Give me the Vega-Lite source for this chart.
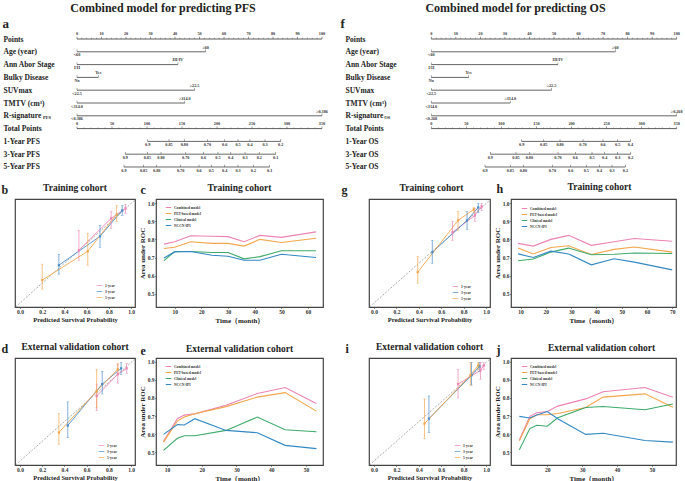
{
"$schema":"https://vega.github.io/schema/vega-lite/v6.json",
"background":"white",
"padding":{"left":0,"top":2,"right":0,"bottom":0},
"columns":5,
"spacing":{"row":21,"column":21},
"bounds":"flush",
"align":"each",
"resolve":{"scale":{"color":"independent"},"legend":{"color":"independent"}},
"datasets":{
"ptsAxis":[{"row":"Points","v":0,"lab":"0"},{"row":"Points","v":2,"lab":""},{"row":"Points","v":4,"lab":""},{"row":"Points","v":6,"lab":""},{"row":"Points","v":8,"lab":""},{"row":"Points","v":10,"lab":"10"},{"row":"Points","v":12,"lab":""},{"row":"Points","v":14,"lab":""},{"row":"Points","v":16,"lab":""},{"row":"Points","v":18,"lab":""},{"row":"Points","v":20,"lab":"20"},{"row":"Points","v":22,"lab":""},{"row":"Points","v":24,"lab":""},{"row":"Points","v":26,"lab":""},{"row":"Points","v":28,"lab":""},{"row":"Points","v":30,"lab":"30"},{"row":"Points","v":32,"lab":""},{"row":"Points","v":34,"lab":""},{"row":"Points","v":36,"lab":""},{"row":"Points","v":38,"lab":""},{"row":"Points","v":40,"lab":"40"},{"row":"Points","v":42,"lab":""},{"row":"Points","v":44,"lab":""},{"row":"Points","v":46,"lab":""},{"row":"Points","v":48,"lab":""},{"row":"Points","v":50,"lab":"50"},{"row":"Points","v":52,"lab":""},{"row":"Points","v":54,"lab":""},{"row":"Points","v":56,"lab":""},{"row":"Points","v":58,"lab":""},{"row":"Points","v":60,"lab":"60"},{"row":"Points","v":62,"lab":""},{"row":"Points","v":64,"lab":""},{"row":"Points","v":66,"lab":""},{"row":"Points","v":68,"lab":""},{"row":"Points","v":70,"lab":"70"},{"row":"Points","v":72,"lab":""},{"row":"Points","v":74,"lab":""},{"row":"Points","v":76,"lab":""},{"row":"Points","v":78,"lab":""},{"row":"Points","v":80,"lab":"80"},{"row":"Points","v":82,"lab":""},{"row":"Points","v":84,"lab":""},{"row":"Points","v":86,"lab":""},{"row":"Points","v":88,"lab":""},{"row":"Points","v":90,"lab":"90"},{"row":"Points","v":92,"lab":""},{"row":"Points","v":94,"lab":""},{"row":"Points","v":96,"lab":""},{"row":"Points","v":98,"lab":""},{"row":"Points","v":100,"lab":"100"}],
"totAxis":[{"row":"Total Points","v":0,"lab":"0"},{"row":"Total Points","v":10,"lab":""},{"row":"Total Points","v":20,"lab":""},{"row":"Total Points","v":30,"lab":""},{"row":"Total Points","v":40,"lab":""},{"row":"Total Points","v":50,"lab":"50"},{"row":"Total Points","v":60,"lab":""},{"row":"Total Points","v":70,"lab":""},{"row":"Total Points","v":80,"lab":""},{"row":"Total Points","v":90,"lab":""},{"row":"Total Points","v":100,"lab":"100"},{"row":"Total Points","v":110,"lab":""},{"row":"Total Points","v":120,"lab":""},{"row":"Total Points","v":130,"lab":""},{"row":"Total Points","v":140,"lab":""},{"row":"Total Points","v":150,"lab":"150"},{"row":"Total Points","v":160,"lab":""},{"row":"Total Points","v":170,"lab":""},{"row":"Total Points","v":180,"lab":""},{"row":"Total Points","v":190,"lab":""},{"row":"Total Points","v":200,"lab":"200"},{"row":"Total Points","v":210,"lab":""},{"row":"Total Points","v":220,"lab":""},{"row":"Total Points","v":230,"lab":""},{"row":"Total Points","v":240,"lab":""},{"row":"Total Points","v":250,"lab":"250"},{"row":"Total Points","v":260,"lab":""},{"row":"Total Points","v":270,"lab":""},{"row":"Total Points","v":280,"lab":""},{"row":"Total Points","v":290,"lab":""},{"row":"Total Points","v":300,"lab":"300"},{"row":"Total Points","v":310,"lab":""},{"row":"Total Points","v":320,"lab":""},{"row":"Total Points","v":330,"lab":""},{"row":"Total Points","v":340,"lab":""},{"row":"Total Points","v":350,"lab":"350"}],
"a_vars":[{"row":"Age (year)","pts":0,"label":"<60"},{"row":"Age (year)","pts":52.5,"label":"≥60"},{"row":"Ann Abor Stage","pts":0,"label":"I/II"},{"row":"Ann Abor Stage","pts":41.2,"label":"III/IV"},{"row":"Bulky Disease","pts":0,"label":"No"},{"row":"Bulky Disease","pts":8.7,"label":"Yes"},{"row":"SUVmax","pts":0,"label":"<22.5"},{"row":"SUVmax","pts":48,"label":"≥22.5"},{"row":"TMTV (cm³)","pts":0,"label":"<314.0"},{"row":"TMTV (cm³)","pts":44,"label":"≥314.0"},{"row":"R-signature","pts":0,"label":"<0.386"},{"row":"R-signature","pts":100,"label":"≥0.386"}],
"f_vars":[{"row":"Age (year)","pts":0,"label":"<60"},{"row":"Age (year)","pts":75,"label":"≥60"},{"row":"Ann Abor Stage","pts":0,"label":"I/II"},{"row":"Ann Abor Stage","pts":51.6,"label":"III/IV"},{"row":"Bulky Disease","pts":0,"label":"No"},{"row":"Bulky Disease","pts":15.2,"label":"Yes"},{"row":"SUVmax","pts":0,"label":"<22.5"},{"row":"SUVmax","pts":49,"label":"≥22.5"},{"row":"TMTV (cm³)","pts":0,"label":"<314.0"},{"row":"TMTV (cm³)","pts":32.2,"label":"≥314.0"},{"row":"R-signature","pts":0,"label":"<0.268"},{"row":"R-signature","pts":100,"label":"≥0.268"}],
"a_surv":[{"row":"1-Year PFS","tp":101,"label":"0.9"},{"row":"1-Year PFS","tp":131.4,"label":"0.85"},{"row":"1-Year PFS","tp":153.3,"label":"0.80"},{"row":"1-Year PFS","tp":186.2,"label":"0.70"},{"row":"1-Year PFS","tp":211,"label":"0.6"},{"row":"1-Year PFS","tp":230,"label":"0.5"},{"row":"1-Year PFS","tp":247,"label":"0.4"},{"row":"1-Year PFS","tp":268.6,"label":"0.3"},{"row":"1-Year PFS","tp":291,"label":"0.2"},
{"row":"3-Year PFS","tp":69,"label":"0.9"},{"row":"3-Year PFS","tp":100.5,"label":"0.85"},{"row":"3-Year PFS","tp":120,"label":"0.80"},{"row":"3-Year PFS","tp":155.3,"label":"0.70"},{"row":"3-Year PFS","tp":180.5,"label":"0.6"},{"row":"3-Year PFS","tp":201.4,"label":"0.5"},{"row":"3-Year PFS","tp":219.6,"label":"0.4"},{"row":"3-Year PFS","tp":240,"label":"0.3"},{"row":"3-Year PFS","tp":260.4,"label":"0.2"},{"row":"3-Year PFS","tp":283.9,"label":"0.1"},
{"row":"5-Year PFS","tp":67.1,"label":"0.9"},{"row":"5-Year PFS","tp":95.1,"label":"0.85"},{"row":"5-Year PFS","tp":113.8,"label":"0.80"},{"row":"5-Year PFS","tp":148,"label":"0.70"},{"row":"5-Year PFS","tp":174.3,"label":"0.6"},{"row":"5-Year PFS","tp":191.9,"label":"0.5"},{"row":"5-Year PFS","tp":211,"label":"0.4"},{"row":"5-Year PFS","tp":230,"label":"0.3"},{"row":"5-Year PFS","tp":252,"label":"0.2"},{"row":"5-Year PFS","tp":275.3,"label":"0.1"}],
"f_surv":[{"row":"1-Year OS","tp":128.9,"label":"0.9"},{"row":"1-Year OS","tp":160.3,"label":"0.85"},{"row":"1-Year OS","tp":183.6,"label":"0.80"},{"row":"1-Year OS","tp":216.4,"label":"0.70"},{"row":"1-Year OS","tp":244.9,"label":"0.6"},{"row":"1-Year OS","tp":265.8,"label":"0.5"},{"row":"1-Year OS","tp":283.9,"label":"0.4"},
{"row":"3-Year OS","tp":84.2,"label":"0.9"},{"row":"3-Year OS","tp":120.8,"label":"0.85"},{"row":"3-Year OS","tp":139.8,"label":"0.80"},{"row":"3-Year OS","tp":180.7,"label":"0.70"},{"row":"3-Year OS","tp":205.4,"label":"0.6"},{"row":"3-Year OS","tp":229.2,"label":"0.5"},{"row":"3-Year OS","tp":247.3,"label":"0.4"},{"row":"3-Year OS","tp":265.8,"label":"0.3"},{"row":"3-Year OS","tp":284.4,"label":"0.2"},
{"row":"5-Year OS","tp":76.6,"label":"0.9"},{"row":"5-Year OS","tp":112.7,"label":"0.85"},{"row":"5-Year OS","tp":131.3,"label":"0.80"},{"row":"5-Year OS","tp":172.6,"label":"0.70"},{"row":"5-Year OS","tp":198.8,"label":"0.6"},{"row":"5-Year OS","tp":221.1,"label":"0.5"},{"row":"5-Year OS","tp":239.7,"label":"0.4"},{"row":"5-Year OS","tp":257.7,"label":"0.3"},{"row":"5-Year OS","tp":276.8,"label":"0.2"}],
"cal_b":[{"year":"1-year","pred":0.53,"obs":0.53,"lo":0.43,"hi":0.73},{"year":"1-year","pred":0.82,"obs":0.85,"lo":0.75,"hi":0.92},{"year":"1-year","pred":0.95,"obs":0.95,"lo":0.9,"hi":0.99},{"year":"3-year","pred":0.35,"obs":0.38,"lo":0.29,"hi":0.49},{"year":"3-year","pred":0.72,"obs":0.67,"lo":0.56,"hi":0.78},{"year":"3-year","pred":0.92,"obs":0.93,"lo":0.88,"hi":0.98},{"year":"5-year","pred":0.2,"obs":0.23,"lo":0.14,"hi":0.39},{"year":"5-year","pred":0.61,"obs":0.52,"lo":0.38,"hi":0.7},{"year":"5-year","pred":0.87,"obs":0.89,"lo":0.82,"hi":0.98}],
"cal_d":[{"year":"1-year","pred":0.69,"obs":0.66,"lo":0.51,"hi":0.78},{"year":"1-year","pred":0.88,"obs":0.88,"lo":0.79,"hi":0.98},{"year":"1-year","pred":0.96,"obs":0.94,"lo":0.89,"hi":0.99},{"year":"3-year","pred":0.43,"obs":0.36,"lo":0.24,"hi":0.6},{"year":"3-year","pred":0.74,"obs":0.78,"lo":0.68,"hi":0.91},{"year":"3-year","pred":0.91,"obs":0.94,"lo":0.88,"hi":1.0},{"year":"5-year","pred":0.35,"obs":0.29,"lo":0.17,"hi":0.48},{"year":"5-year","pred":0.69,"obs":0.71,"lo":0.54,"hi":0.93},{"year":"5-year","pred":0.88,"obs":0.93,"lo":0.88,"hi":0.99}],
"cal_g":[{"year":"1-year","pred":0.7,"obs":0.71,"lo":0.63,"hi":0.82},{"year":"1-year","pred":0.9,"obs":0.88,"lo":0.82,"hi":0.95},{"year":"1-year","pred":0.96,"obs":0.97,"lo":0.93,"hi":1.0},{"year":"3-year","pred":0.52,"obs":0.51,"lo":0.4,"hi":0.63},{"year":"3-year","pred":0.83,"obs":0.83,"lo":0.74,"hi":0.92},{"year":"3-year","pred":0.93,"obs":0.96,"lo":0.91,"hi":1.0},{"year":"5-year","pred":0.39,"obs":0.31,"lo":0.2,"hi":0.47},{"year":"5-year","pred":0.75,"obs":0.83,"lo":0.73,"hi":0.92},{"year":"5-year","pred":0.89,"obs":0.94,"lo":0.91,"hi":0.96}],
"cal_i":[{"year":"1-year","pred":0.75,"obs":0.78,"lo":0.64,"hi":0.93},{"year":"1-year","pred":0.95,"obs":0.92,"lo":0.83,"hi":1.0},{"year":"1-year","pred":0.98,"obs":0.97,"lo":0.93,"hi":1.0},{"year":"3-year","pred":0.49,"obs":0.43,"lo":0.29,"hi":0.66},{"year":"3-year","pred":0.87,"obs":0.87,"lo":0.77,"hi":1.0},{"year":"3-year","pred":0.94,"obs":0.96,"lo":0.91,"hi":1.0},{"year":"5-year","pred":0.45,"obs":0.38,"lo":0.23,"hi":0.63},{"year":"5-year","pred":0.86,"obs":0.87,"lo":0.77,"hi":1.0},{"year":"5-year","pred":0.93,"obs":0.97,"lo":0.93,"hi":1.0}],
"auc_c":[{"model":"Combined model","t":6,"auc":0.774},{"model":"Combined model","t":10,"auc":0.787},{"model":"Combined model","t":16,"auc":0.82},{"model":"Combined model","t":24,"auc":0.817},{"model":"Combined model","t":30,"auc":0.815},{"model":"Combined model","t":36,"auc":0.787},{"model":"Combined model","t":42,"auc":0.822},{"model":"Combined model","t":50,"auc":0.811},{"model":"Combined model","t":63,"auc":0.841},
{"model":"PET-based model","t":6,"auc":0.75},{"model":"PET-based model","t":10,"auc":0.757},{"model":"PET-based model","t":16,"auc":0.787},{"model":"PET-based model","t":24,"auc":0.778},{"model":"PET-based model","t":30,"auc":0.778},{"model":"PET-based model","t":36,"auc":0.763},{"model":"PET-based model","t":42,"auc":0.8},{"model":"PET-based model","t":50,"auc":0.783},{"model":"PET-based model","t":63,"auc":0.806},
{"model":"Clinical model","t":6,"auc":0.683},{"model":"Clinical model","t":10,"auc":0.733},{"model":"Clinical model","t":16,"auc":0.733},{"model":"Clinical model","t":24,"auc":0.728},{"model":"Clinical model","t":30,"auc":0.728},{"model":"Clinical model","t":36,"auc":0.693},{"model":"Clinical model","t":42,"auc":0.705},{"model":"Clinical model","t":50,"auc":0.737},{"model":"Clinical model","t":63,"auc":0.737},
{"model":"NCCN-IPI","t":6,"auc":0.698},{"model":"NCCN-IPI","t":10,"auc":0.731},{"model":"NCCN-IPI","t":16,"auc":0.733},{"model":"NCCN-IPI","t":24,"auc":0.713},{"model":"NCCN-IPI","t":30,"auc":0.707},{"model":"NCCN-IPI","t":36,"auc":0.685},{"model":"NCCN-IPI","t":42,"auc":0.685},{"model":"NCCN-IPI","t":50,"auc":0.718},{"model":"NCCN-IPI","t":63,"auc":0.7}],
"auc_e":[{"model":"Combined model","t":9,"auc":0.56},{"model":"Combined model","t":13,"auc":0.685},{"model":"Combined model","t":15,"auc":0.705},{"model":"Combined model","t":18,"auc":0.712},{"model":"Combined model","t":27,"auc":0.76},{"model":"Combined model","t":36,"auc":0.825},{"model":"Combined model","t":44,"auc":0.858},{"model":"Combined model","t":53,"auc":0.77},
{"model":"PET-based model","t":9,"auc":0.555},{"model":"PET-based model","t":13,"auc":0.672},{"model":"PET-based model","t":15,"auc":0.695},{"model":"PET-based model","t":18,"auc":0.713},{"model":"PET-based model","t":27,"auc":0.752},{"model":"PET-based model","t":36,"auc":0.805},{"model":"PET-based model","t":44,"auc":0.83},{"model":"PET-based model","t":53,"auc":0.727},
{"model":"Clinical model","t":9,"auc":0.509},{"model":"Clinical model","t":13,"auc":0.576},{"model":"Clinical model","t":15,"auc":0.59},{"model":"Clinical model","t":18,"auc":0.59},{"model":"Clinical model","t":27,"auc":0.62},{"model":"Clinical model","t":36,"auc":0.694},{"model":"Clinical model","t":44,"auc":0.624},{"model":"Clinical model","t":53,"auc":0.613},
{"model":"NCCN-IPI","t":9,"auc":0.598},{"model":"NCCN-IPI","t":13,"auc":0.652},{"model":"NCCN-IPI","t":15,"auc":0.65},{"model":"NCCN-IPI","t":18,"auc":0.685},{"model":"NCCN-IPI","t":27,"auc":0.62},{"model":"NCCN-IPI","t":36,"auc":0.607},{"model":"NCCN-IPI","t":44,"auc":0.537},{"model":"NCCN-IPI","t":53,"auc":0.519}],
"auc_h":[{"model":"Combined model","t":9,"auc":0.778},{"model":"Combined model","t":15,"auc":0.763},{"model":"Combined model","t":22,"auc":0.8},{"model":"Combined model","t":29,"auc":0.822},{"model":"Combined model","t":38,"auc":0.767},{"model":"Combined model","t":47,"auc":0.787},{"model":"Combined model","t":55,"auc":0.805},{"model":"Combined model","t":70,"auc":0.79},
{"model":"PET-based model","t":9,"auc":0.753},{"model":"PET-based model","t":15,"auc":0.72},{"model":"PET-based model","t":22,"auc":0.755},{"model":"PET-based model","t":29,"auc":0.765},{"model":"PET-based model","t":38,"auc":0.717},{"model":"PET-based model","t":47,"auc":0.745},{"model":"PET-based model","t":55,"auc":0.758},{"model":"PET-based model","t":70,"auc":0.73},
{"model":"Clinical model","t":9,"auc":0.682},{"model":"Clinical model","t":15,"auc":0.692},{"model":"Clinical model","t":22,"auc":0.73},{"model":"Clinical model","t":29,"auc":0.752},{"model":"Clinical model","t":38,"auc":0.715},{"model":"Clinical model","t":47,"auc":0.718},{"model":"Clinical model","t":55,"auc":0.725},{"model":"Clinical model","t":70,"auc":0.722},
{"model":"NCCN-IPI","t":9,"auc":0.72},{"model":"NCCN-IPI","t":15,"auc":0.7},{"model":"NCCN-IPI","t":22,"auc":0.735},{"model":"NCCN-IPI","t":29,"auc":0.72},{"model":"NCCN-IPI","t":38,"auc":0.66},{"model":"NCCN-IPI","t":47,"auc":0.693},{"model":"NCCN-IPI","t":55,"auc":0.675},{"model":"NCCN-IPI","t":70,"auc":0.632}],
"auc_j":[{"model":"Combined model","t":12,"auc":0.567},{"model":"Combined model","t":15,"auc":0.698},{"model":"Combined model","t":17,"auc":0.718},{"model":"Combined model","t":20,"auc":0.725},{"model":"Combined model","t":23,"auc":0.755},{"model":"Combined model","t":31,"auc":0.795},{"model":"Combined model","t":36,"auc":0.835},{"model":"Combined model","t":48,"auc":0.858},{"model":"Combined model","t":56,"auc":0.804},
{"model":"PET-based model","t":12,"auc":0.562},{"model":"PET-based model","t":15,"auc":0.685},{"model":"PET-based model","t":17,"auc":0.707},{"model":"PET-based model","t":20,"auc":0.707},{"model":"PET-based model","t":23,"auc":0.714},{"model":"PET-based model","t":31,"auc":0.747},{"model":"PET-based model","t":36,"auc":0.805},{"model":"PET-based model","t":48,"auc":0.823},{"model":"PET-based model","t":56,"auc":0.749},
{"model":"Clinical model","t":12,"auc":0.513},{"model":"Clinical model","t":15,"auc":0.63},{"model":"Clinical model","t":17,"auc":0.649},{"model":"Clinical model","t":20,"auc":0.643},{"model":"Clinical model","t":23,"auc":0.69},{"model":"Clinical model","t":31,"auc":0.747},{"model":"Clinical model","t":36,"auc":0.753},{"model":"Clinical model","t":48,"auc":0.735},{"model":"Clinical model","t":56,"auc":0.767},
{"model":"NCCN-IPI","t":12,"auc":0.698},{"model":"NCCN-IPI","t":15,"auc":0.689},{"model":"NCCN-IPI","t":17,"auc":0.705},{"model":"NCCN-IPI","t":20,"auc":0.725},{"model":"NCCN-IPI","t":23,"auc":0.685},{"model":"NCCN-IPI","t":31,"auc":0.598},{"model":"NCCN-IPI","t":36,"auc":0.604},{"model":"NCCN-IPI","t":48,"auc":0.564},{"model":"NCCN-IPI","t":56,"auc":0.555}]
},
"concat":[
{
"width":120,"height":150,
"title":{"text":"Combined model for predicting PFS","fontSize":12,"anchor":"middle","dx":88,"offset":-7,"baseline":"alphabetic"},
"resolve":{"scale":{"x":"independent"}},
"encoding":{"y":{"field":"row","type":"nominal","scale":{"type":"point","padding":0.86,"domain":["Points","Age (year)","Ann Abor Stage","Bulky Disease","SUVmax","TMTV (cm³)","R-signature","Total Points","1-Year PFS","3-Year PFS","5-Year PFS"]},"axis":{"title":"a","titleAngle":0,"titleX":-13,"titleY":-1,"titleAlign":"left","titleBaseline":"alphabetic","titleFontSize":13,"labelAlign":"left","labelBaseline":"middle","labelPadding":12,"labelFontSize":7.5,"labelColor":"#222","ticks":false,"tickSize":0,"domain":false,"labelLimit":0}}},
"layer":[
{"data":{"name":"a_vars"},"mark":{"type":"rule","color":"#555","strokeWidth":0.9},"encoding":{"x":{"aggregate":"min","field":"pts","type":"quantitative","scale":{"domain":[-25.31,23.67],"nice":false,"zero":false},"axis":null},"x2":{"aggregate":"max","field":"pts"}}},
{"data":{"name":"a_vars"},"mark":{"type":"tick","orient":"vertical","size":2.2,"thickness":0.7,"yOffset":-1.1,"color":"#555"},"encoding":{"x":{"field":"pts","type":"quantitative","scale":{"domain":[-25.31,23.67],"nice":false,"zero":false},"axis":null}}},
{"data":{"name":"a_vars"},"transform":[{"filter":"datum.pts > 0"}],"mark":{"type":"text","fontSize":4.2,"fontWeight":"bold","baseline":"bottom","dy":-2.2,"color":"#333"},"encoding":{"x":{"field":"pts","type":"quantitative","scale":{"domain":[-25.31,23.67],"nice":false,"zero":false},"axis":null},"text":{"field":"label"}}},
{"data":{"name":"a_vars"},"transform":[{"filter":"datum.pts == 0"}],"mark":{"type":"text","fontSize":4.2,"fontWeight":"bold","baseline":"top","dy":1.6,"color":"#333"},"encoding":{"x":{"field":"pts","type":"quantitative","scale":{"domain":[-25.31,23.67],"nice":false,"zero":false},"axis":null},"text":{"field":"label"}}},
{"data":{"name":"ptsAxis"},"mark":{"type":"rule","color":"#333","strokeWidth":0.8},"encoding":{"x":{"aggregate":"min","field":"v","type":"quantitative","scale":{"domain":[-25.31,23.67],"nice":false,"zero":false},"axis":null},"x2":{"aggregate":"max","field":"v"}}},
{"data":{"name":"ptsAxis"},"transform":[{"filter":"datum.lab != ''"}],"mark":{"type":"tick","orient":"vertical","size":2.2,"thickness":0.7,"yOffset":-1.1,"color":"#333"},"encoding":{"x":{"field":"v","type":"quantitative","scale":{"domain":[-25.31,23.67],"nice":false,"zero":false},"axis":null}}},
{"data":{"name":"ptsAxis"},"transform":[{"filter":"datum.lab == ''"}],"mark":{"type":"tick","orient":"vertical","size":1.2,"thickness":0.6,"yOffset":-0.6,"color":"#333"},"encoding":{"x":{"field":"v","type":"quantitative","scale":{"domain":[-25.31,23.67],"nice":false,"zero":false},"axis":null}}},
{"data":{"name":"ptsAxis"},"transform":[{"filter":"datum.lab != ''"}],"mark":{"type":"text","fontSize":4.2,"fontWeight":"bold","baseline":"bottom","dy":-2.6,"color":"#333"},"encoding":{"x":{"field":"v","type":"quantitative","scale":{"domain":[-25.31,23.67],"nice":false,"zero":false},"axis":null},"text":{"field":"lab"}}},
{"data":{"name":"totAxis"},"mark":{"type":"rule","color":"#333","strokeWidth":0.8},"encoding":{"x":{"aggregate":"min","field":"v","type":"quantitative","scale":{"domain":[-88.57,82.86],"nice":false,"zero":false},"axis":null},"x2":{"aggregate":"max","field":"v"}}},
{"data":{"name":"totAxis"},"transform":[{"filter":"datum.lab != ''"}],"mark":{"type":"tick","orient":"vertical","size":2.2,"thickness":0.7,"yOffset":-1.1,"color":"#333"},"encoding":{"x":{"field":"v","type":"quantitative","scale":{"domain":[-88.57,82.86],"nice":false,"zero":false},"axis":null}}},
{"data":{"name":"totAxis"},"transform":[{"filter":"datum.lab == ''"}],"mark":{"type":"tick","orient":"vertical","size":1.2,"thickness":0.6,"yOffset":-0.6,"color":"#333"},"encoding":{"x":{"field":"v","type":"quantitative","scale":{"domain":[-88.57,82.86],"nice":false,"zero":false},"axis":null}}},
{"data":{"name":"totAxis"},"transform":[{"filter":"datum.lab != ''"}],"mark":{"type":"text","fontSize":4.2,"fontWeight":"bold","baseline":"bottom","dy":-2.6,"color":"#333"},"encoding":{"x":{"field":"v","type":"quantitative","scale":{"domain":[-88.57,82.86],"nice":false,"zero":false},"axis":null},"text":{"field":"lab"}}},
{"data":{"name":"a_surv"},"mark":{"type":"rule","color":"#444","strokeWidth":0.8},"encoding":{"x":{"aggregate":"min","field":"tp","type":"quantitative","scale":{"domain":[-88.57,82.86],"nice":false,"zero":false},"axis":null},"x2":{"aggregate":"max","field":"tp"}}},
{"data":{"name":"a_surv"},"mark":{"type":"tick","orient":"vertical","size":2.2,"thickness":0.7,"yOffset":-1.1,"color":"#444"},"encoding":{"x":{"field":"tp","type":"quantitative","scale":{"domain":[-88.57,82.86],"nice":false,"zero":false},"axis":null}}},
{"data":{"name":"a_surv"},"mark":{"type":"text","fontSize":4.2,"fontWeight":"bold","baseline":"top","dy":1.8,"color":"#333"},"encoding":{"x":{"field":"tp","type":"quantitative","scale":{"domain":[-88.57,82.86],"nice":false,"zero":false},"axis":null},"text":{"field":"label"}}},
{"data":{"values":[{"row":"R-signature","sub":"PFS"}]},"mark":{"type":"text","fontSize":4.5,"fontWeight":"bold","align":"left","baseline":"middle","dy":2.2,"color":"#222"},"encoding":{"x":{"datum":-13.9,"type":"quantitative","scale":{"domain":[-25.31,23.67],"nice":false,"zero":false},"axis":null},"text":{"field":"sub"}}}
]
},
{"width":4,"height":9,"data":{"values":[]},"mark":"point"},
{"width":4,"height":9,"data":{"values":[]},"mark":"point"},
{
"width":121,"height":150,
"title":{"text":"Combined model for predicting OS","fontSize":12,"anchor":"middle","dx":86,"offset":-7,"baseline":"alphabetic"},
"resolve":{"scale":{"x":"independent"}},
"encoding":{"y":{"field":"row","type":"nominal","scale":{"type":"point","padding":0.86,"domain":["Points","Age (year)","Ann Abor Stage","Bulky Disease","SUVmax","TMTV (cm³)","R-signature","Total Points","1-Year OS","3-Year OS","5-Year OS"]},"axis":{"title":"f","titleAngle":0,"titleX":-29,"titleY":-1,"titleAlign":"left","titleBaseline":"alphabetic","titleFontSize":13,"labelAlign":"left","labelBaseline":"middle","labelPadding":24,"labelFontSize":7.5,"labelColor":"#222","ticks":false,"tickSize":0,"domain":false,"labelLimit":0}}},
"layer":[
{"data":{"name":"f_vars"},"mark":{"type":"rule","color":"#555","strokeWidth":0.9},"encoding":{"x":{"aggregate":"min","field":"pts","type":"quantitative","scale":{"domain":[-25.39,23.92],"nice":false,"zero":false},"axis":null},"x2":{"aggregate":"max","field":"pts"}}},
{"data":{"name":"f_vars"},"mark":{"type":"tick","orient":"vertical","size":2.2,"thickness":0.7,"yOffset":-1.1,"color":"#555"},"encoding":{"x":{"field":"pts","type":"quantitative","scale":{"domain":[-25.39,23.92],"nice":false,"zero":false},"axis":null}}},
{"data":{"name":"f_vars"},"transform":[{"filter":"datum.pts > 0"}],"mark":{"type":"text","fontSize":4.2,"fontWeight":"bold","baseline":"bottom","dy":-2.2,"color":"#333"},"encoding":{"x":{"field":"pts","type":"quantitative","scale":{"domain":[-25.39,23.92],"nice":false,"zero":false},"axis":null},"text":{"field":"label"}}},
{"data":{"name":"f_vars"},"transform":[{"filter":"datum.pts == 0"}],"mark":{"type":"text","fontSize":4.2,"fontWeight":"bold","baseline":"top","dy":1.6,"color":"#333"},"encoding":{"x":{"field":"pts","type":"quantitative","scale":{"domain":[-25.39,23.92],"nice":false,"zero":false},"axis":null},"text":{"field":"label"}}},
{"data":{"name":"ptsAxis"},"mark":{"type":"rule","color":"#333","strokeWidth":0.8},"encoding":{"x":{"aggregate":"min","field":"v","type":"quantitative","scale":{"domain":[-25.39,23.92],"nice":false,"zero":false},"axis":null},"x2":{"aggregate":"max","field":"v"}}},
{"data":{"name":"ptsAxis"},"transform":[{"filter":"datum.lab != ''"}],"mark":{"type":"tick","orient":"vertical","size":2.2,"thickness":0.7,"yOffset":-1.1,"color":"#333"},"encoding":{"x":{"field":"v","type":"quantitative","scale":{"domain":[-25.39,23.92],"nice":false,"zero":false},"axis":null}}},
{"data":{"name":"ptsAxis"},"transform":[{"filter":"datum.lab == ''"}],"mark":{"type":"tick","orient":"vertical","size":1.2,"thickness":0.6,"yOffset":-0.6,"color":"#333"},"encoding":{"x":{"field":"v","type":"quantitative","scale":{"domain":[-25.39,23.92],"nice":false,"zero":false},"axis":null}}},
{"data":{"name":"ptsAxis"},"transform":[{"filter":"datum.lab != ''"}],"mark":{"type":"text","fontSize":4.2,"fontWeight":"bold","baseline":"bottom","dy":-2.6,"color":"#333"},"encoding":{"x":{"field":"v","type":"quantitative","scale":{"domain":[-25.39,23.92],"nice":false,"zero":false},"axis":null},"text":{"field":"lab"}}},
{"data":{"name":"totAxis"},"mark":{"type":"rule","color":"#333","strokeWidth":0.8},"encoding":{"x":{"aggregate":"min","field":"v","type":"quantitative","scale":{"domain":[-88.85,83.72],"nice":false,"zero":false},"axis":null},"x2":{"aggregate":"max","field":"v"}}},
{"data":{"name":"totAxis"},"transform":[{"filter":"datum.lab != ''"}],"mark":{"type":"tick","orient":"vertical","size":2.2,"thickness":0.7,"yOffset":-1.1,"color":"#333"},"encoding":{"x":{"field":"v","type":"quantitative","scale":{"domain":[-88.85,83.72],"nice":false,"zero":false},"axis":null}}},
{"data":{"name":"totAxis"},"transform":[{"filter":"datum.lab == ''"}],"mark":{"type":"tick","orient":"vertical","size":1.2,"thickness":0.6,"yOffset":-0.6,"color":"#333"},"encoding":{"x":{"field":"v","type":"quantitative","scale":{"domain":[-88.85,83.72],"nice":false,"zero":false},"axis":null}}},
{"data":{"name":"totAxis"},"transform":[{"filter":"datum.lab != ''"}],"mark":{"type":"text","fontSize":4.2,"fontWeight":"bold","baseline":"bottom","dy":-2.6,"color":"#333"},"encoding":{"x":{"field":"v","type":"quantitative","scale":{"domain":[-88.85,83.72],"nice":false,"zero":false},"axis":null},"text":{"field":"lab"}}},
{"data":{"name":"f_surv"},"mark":{"type":"rule","color":"#444","strokeWidth":0.8},"encoding":{"x":{"aggregate":"min","field":"tp","type":"quantitative","scale":{"domain":[-88.85,83.72],"nice":false,"zero":false},"axis":null},"x2":{"aggregate":"max","field":"tp"}}},
{"data":{"name":"f_surv"},"mark":{"type":"tick","orient":"vertical","size":2.2,"thickness":0.7,"yOffset":-1.1,"color":"#444"},"encoding":{"x":{"field":"tp","type":"quantitative","scale":{"domain":[-88.85,83.72],"nice":false,"zero":false},"axis":null}}},
{"data":{"name":"f_surv"},"mark":{"type":"text","fontSize":4.2,"fontWeight":"bold","baseline":"top","dy":1.8,"color":"#333"},"encoding":{"x":{"field":"tp","type":"quantitative","scale":{"domain":[-88.85,83.72],"nice":false,"zero":false},"axis":null},"text":{"field":"label"}}},
{"data":{"values":[{"row":"R-signature","sub":"OS"}]},"mark":{"type":"text","fontSize":4.5,"fontWeight":"bold","align":"left","baseline":"middle","dy":2.2,"color":"#222"},"encoding":{"x":{"datum":-19.2,"type":"quantitative","scale":{"domain":[-25.39,23.92],"nice":false,"zero":false},"axis":null},"text":{"field":"sub"}}}
]
},
{"width":4,"height":9,"data":{"values":[]},"mark":"point"},

{
"width":120,"height":108,"view":{"stroke":"#444","strokeWidth":1.2},
"title":{"text":"Training cohort","fontSize":9.5,"anchor":"middle","baseline":"alphabetic","offset":-9,"dy":8},
"resolve":{"axis":{"x":"independent"}},
"layer":[
{"data":{"values":[{"a":-0.04,"b":1.04}]},"mark":{"type":"rule","strokeDash":[2,1.5],"color":"#777","strokeWidth":0.6},"encoding":{"x":{"field":"a","type":"quantitative","scale":{"domain":[-0.045,1.035],"nice":false,"zero":false},"axis":{"orient":"top","title":"b","labels":false,"ticks":false,"domain":false,"titleFontSize":12,"titleAngle":0,"titleAlign":"left","titleBaseline":"alphabetic","titleX":-14,"titleY":-6}},"x2":{"field":"b"},"y":{"field":"a","type":"quantitative","scale":{"domain":[-0.04,1.045],"nice":false,"zero":false},"axis":null},"y2":{"field":"b"}}},
{"data":{"name":"cal_b"},"mark":{"type":"line","strokeWidth":0.9},"encoding":{"x":{"field":"pred","type":"quantitative","scale":{"domain":[-0.045,1.035],"nice":false,"zero":false},"axis":{"values":[0,0.2,0.4,0.6,0.8,1],"format":".1f","title":"Predicted Survival Probability"}},"y":{"field":"obs","type":"quantitative","scale":{"domain":[-0.04,1.045],"nice":false,"zero":false},"axis":{"values":[0,0.2,0.4,0.6,0.8,1],"format":".1f","title":"Actual PFS (proportion)"}},"color":{"field":"year","type":"nominal","scale":{"domain":["1-year","3-year","5-year"],"range":["#EE82B4","#4A8CC8","#F4A64C"]},"legend":{"orient":"none","legendX":81,"legendY":83,"title":null,"symbolType":"stroke","symbolSize":30,"symbolStrokeWidth":1,"labelFontSize":3.6,"rowPadding":0,"labelOffset":2,"padding":0}}}},
{"data":{"name":"cal_b"},"mark":{"type":"rule","strokeWidth":0.7},"encoding":{"x":{"field":"pred","type":"quantitative","scale":{"domain":[-0.045,1.035],"nice":false,"zero":false},"axis":null},"y":{"field":"lo","type":"quantitative","scale":{"domain":[-0.04,1.045],"nice":false,"zero":false},"axis":null},"y2":{"field":"hi"},"color":{"field":"year","type":"nominal","scale":{"domain":["1-year","3-year","5-year"],"range":["#EE82B4","#4A8CC8","#F4A64C"]}}}},
{"data":{"name":"cal_b"},"mark":{"type":"tick","orient":"horizontal","size":2.5,"thickness":0.6},"encoding":{"x":{"field":"pred","type":"quantitative","scale":{"domain":[-0.045,1.035],"nice":false,"zero":false},"axis":null},"y":{"field":"lo","type":"quantitative","scale":{"domain":[-0.04,1.045],"nice":false,"zero":false},"axis":null},"color":{"field":"year","type":"nominal","scale":{"domain":["1-year","3-year","5-year"],"range":["#EE82B4","#4A8CC8","#F4A64C"]}}}},
{"data":{"name":"cal_b"},"mark":{"type":"tick","orient":"horizontal","size":2.5,"thickness":0.6},"encoding":{"x":{"field":"pred","type":"quantitative","scale":{"domain":[-0.045,1.035],"nice":false,"zero":false},"axis":null},"y":{"field":"hi","type":"quantitative","scale":{"domain":[-0.04,1.045],"nice":false,"zero":false},"axis":null},"color":{"field":"year","type":"nominal","scale":{"domain":["1-year","3-year","5-year"],"range":["#EE82B4","#4A8CC8","#F4A64C"]}}}},
{"data":{"name":"cal_b"},"mark":{"type":"point","shape":"square","filled":true,"size":5,"opacity":1},"encoding":{"x":{"field":"pred","type":"quantitative","scale":{"domain":[-0.045,1.035],"nice":false,"zero":false},"axis":null},"y":{"field":"obs","type":"quantitative","scale":{"domain":[-0.04,1.045],"nice":false,"zero":false},"axis":null},"color":{"field":"year","type":"nominal","scale":{"domain":["1-year","3-year","5-year"],"range":["#EE82B4","#4A8CC8","#F4A64C"]}}}}
]
},
{
"width":167,"height":108,"view":{"stroke":"#444","strokeWidth":1.2},
"title":{"text":"Training cohort","fontSize":9.5,"anchor":"middle","baseline":"alphabetic","offset":-9,"dy":8},
"resolve":{"axis":{"x":"independent"}},
"layer":[
{"data":{"values":[]},"mark":"rule","encoding":{"x":{"field":"t","type":"quantitative","scale":{"domain":[3.0,65.6],"nice":false,"zero":false},"axis":{"orient":"top","title":"c","labels":false,"ticks":false,"domain":false,"titleFontSize":12,"titleAngle":0,"titleAlign":"left","titleBaseline":"alphabetic","titleX":-16,"titleY":-6}}}},
{"data":{"name":"auc_c"},"mark":{"type":"line","strokeWidth":1.1},"encoding":{"x":{"field":"t","type":"quantitative","scale":{"domain":[3.0,65.6],"nice":false,"zero":false},"axis":{"values":[10,20,30,40,50,60],"title":"Time（month）","titleFontSize":7}},"y":{"field":"auc","type":"quantitative","scale":{"domain":[0.428,1.022],"nice":false,"zero":false},"axis":{"values":[0.5,0.6,0.7,0.8,0.9,1.0],"format":".1f","title":"Area under ROC","titleFontSize":7}},"color":{"field":"model","type":"nominal","scale":{"domain":["Combined model","PET-based model","Clinical model","NCCN-IPI"],"range":["#EE82B4","#F4A64C","#3DAA6A","#3388C4"]},"legend":{"orient":"none","legendX":9,"legendY":5,"title":null,"symbolType":"stroke","symbolSize":30,"symbolStrokeWidth":1,"labelFontSize":3.6,"rowPadding":0,"labelOffset":2,"padding":0}}}}
]
},
{"width":4,"height":9,"data":{"values":[]},"mark":"point"},
{
"width":121,"height":108,"view":{"stroke":"#444","strokeWidth":1.2},
"title":{"text":"Training cohort","fontSize":9.5,"anchor":"middle","baseline":"alphabetic","offset":-9,"dy":8,"dx":2},
"resolve":{"axis":{"x":"independent"}},
"layer":[
{"data":{"values":[{"a":-0.04,"b":1.04}]},"mark":{"type":"rule","strokeDash":[2,1.5],"color":"#777","strokeWidth":0.6},"encoding":{"x":{"field":"a","type":"quantitative","scale":{"domain":[-0.045,1.035],"nice":false,"zero":false},"axis":{"orient":"top","title":"g","labels":false,"ticks":false,"domain":false,"titleFontSize":12,"titleAngle":0,"titleAlign":"left","titleBaseline":"alphabetic","titleX":-28,"titleY":-6}},"x2":{"field":"b"},"y":{"field":"a","type":"quantitative","scale":{"domain":[-0.04,1.045],"nice":false,"zero":false},"axis":null},"y2":{"field":"b"}}},
{"data":{"name":"cal_g"},"mark":{"type":"line","strokeWidth":0.9},"encoding":{"x":{"field":"pred","type":"quantitative","scale":{"domain":[-0.045,1.035],"nice":false,"zero":false},"axis":{"values":[0,0.2,0.4,0.6,0.8,1],"format":".1f","title":"Predicted Survival Probability"}},"y":{"field":"obs","type":"quantitative","scale":{"domain":[-0.04,1.045],"nice":false,"zero":false},"axis":{"values":[0,0.2,0.4,0.6,0.8,1],"format":".1f","title":"Actual OS (proportion)"}},"color":{"field":"year","type":"nominal","scale":{"domain":["1-year","3-year","5-year"],"range":["#EE82B4","#4A8CC8","#F4A64C"]},"legend":{"orient":"none","legendX":83,"legendY":84,"title":null,"symbolType":"stroke","symbolSize":30,"symbolStrokeWidth":1,"labelFontSize":3.6,"rowPadding":0,"labelOffset":2,"padding":0}}}},
{"data":{"name":"cal_g"},"mark":{"type":"rule","strokeWidth":0.7},"encoding":{"x":{"field":"pred","type":"quantitative","scale":{"domain":[-0.045,1.035],"nice":false,"zero":false},"axis":null},"y":{"field":"lo","type":"quantitative","scale":{"domain":[-0.04,1.045],"nice":false,"zero":false},"axis":null},"y2":{"field":"hi"},"color":{"field":"year","type":"nominal","scale":{"domain":["1-year","3-year","5-year"],"range":["#EE82B4","#4A8CC8","#F4A64C"]}}}},
{"data":{"name":"cal_g"},"mark":{"type":"tick","orient":"horizontal","size":2.5,"thickness":0.6},"encoding":{"x":{"field":"pred","type":"quantitative","scale":{"domain":[-0.045,1.035],"nice":false,"zero":false},"axis":null},"y":{"field":"lo","type":"quantitative","scale":{"domain":[-0.04,1.045],"nice":false,"zero":false},"axis":null},"color":{"field":"year","type":"nominal","scale":{"domain":["1-year","3-year","5-year"],"range":["#EE82B4","#4A8CC8","#F4A64C"]}}}},
{"data":{"name":"cal_g"},"mark":{"type":"tick","orient":"horizontal","size":2.5,"thickness":0.6},"encoding":{"x":{"field":"pred","type":"quantitative","scale":{"domain":[-0.045,1.035],"nice":false,"zero":false},"axis":null},"y":{"field":"hi","type":"quantitative","scale":{"domain":[-0.04,1.045],"nice":false,"zero":false},"axis":null},"color":{"field":"year","type":"nominal","scale":{"domain":["1-year","3-year","5-year"],"range":["#EE82B4","#4A8CC8","#F4A64C"]}}}},
{"data":{"name":"cal_g"},"mark":{"type":"point","shape":"square","filled":true,"size":5,"opacity":1},"encoding":{"x":{"field":"pred","type":"quantitative","scale":{"domain":[-0.045,1.035],"nice":false,"zero":false},"axis":null},"y":{"field":"obs","type":"quantitative","scale":{"domain":[-0.04,1.045],"nice":false,"zero":false},"axis":null},"color":{"field":"year","type":"nominal","scale":{"domain":["1-year","3-year","5-year"],"range":["#EE82B4","#4A8CC8","#F4A64C"]}}}}
]
},
{
"width":165,"height":108,"view":{"stroke":"#444","strokeWidth":1.2},
"title":{"text":"Training cohort","fontSize":9.5,"anchor":"middle","baseline":"alphabetic","offset":-9,"dy":8,"dx":6},
"resolve":{"axis":{"x":"independent"}},
"layer":[
{"data":{"values":[]},"mark":"rule","encoding":{"x":{"field":"t","type":"quantitative","scale":{"domain":[6.2,71.5],"nice":false,"zero":false},"axis":{"orient":"top","title":"h","labels":false,"ticks":false,"domain":false,"titleFontSize":12,"titleAngle":0,"titleAlign":"left","titleBaseline":"alphabetic","titleX":-15,"titleY":-7}}}},
{"data":{"name":"auc_h"},"mark":{"type":"line","strokeWidth":1.1},"encoding":{"x":{"field":"t","type":"quantitative","scale":{"domain":[6.2,71.5],"nice":false,"zero":false},"axis":{"values":[10,20,30,40,50,60,70],"title":"Time（month）","titleFontSize":7}},"y":{"field":"auc","type":"quantitative","scale":{"domain":[0.428,1.022],"nice":false,"zero":false},"axis":{"values":[0.5,0.6,0.7,0.8,0.9,1.0],"format":".1f","title":"Area under ROC","titleFontSize":7}},"color":{"field":"model","type":"nominal","scale":{"domain":["Combined model","PET-based model","Clinical model","NCCN-IPI"],"range":["#EE82B4","#F4A64C","#3DAA6A","#3388C4"]},"legend":{"orient":"none","legendX":10,"legendY":6,"title":null,"symbolType":"stroke","symbolSize":30,"symbolStrokeWidth":1,"labelFontSize":3.6,"rowPadding":0,"labelOffset":2,"padding":0}}}}
]
},

{"width":4,"height":9,"data":{"values":[]},"mark":"point"},
{"width":4,"height":9,"data":{"values":[]},"mark":"point"},
{"width":4,"height":9,"data":{"values":[]},"mark":"point"},
{"width":4,"height":9,"data":{"values":[]},"mark":"point"},
{"width":4,"height":9,"data":{"values":[]},"mark":"point"},

{
"width":120,"height":107,"view":{"stroke":"#444","strokeWidth":1.2},
"title":{"text":"External validation cohort","fontSize":9.5,"anchor":"middle","baseline":"alphabetic","offset":-9,"dy":8},
"resolve":{"axis":{"x":"independent"}},
"layer":[
{"data":{"values":[{"a":-0.04,"b":1.04}]},"mark":{"type":"rule","strokeDash":[2,1.5],"color":"#777","strokeWidth":0.6},"encoding":{"x":{"field":"a","type":"quantitative","scale":{"domain":[-0.045,1.035],"nice":false,"zero":false},"axis":{"orient":"top","title":"d","labels":false,"ticks":false,"domain":false,"titleFontSize":12,"titleAngle":0,"titleAlign":"left","titleBaseline":"alphabetic","titleX":-14,"titleY":-6}},"x2":{"field":"b"},"y":{"field":"a","type":"quantitative","scale":{"domain":[-0.04,1.045],"nice":false,"zero":false},"axis":null},"y2":{"field":"b"}}},
{"data":{"name":"cal_d"},"mark":{"type":"line","strokeWidth":0.9},"encoding":{"x":{"field":"pred","type":"quantitative","scale":{"domain":[-0.045,1.035],"nice":false,"zero":false},"axis":{"values":[0,0.2,0.4,0.6,0.8,1],"format":".1f","title":"Predicted Survival Probability"}},"y":{"field":"obs","type":"quantitative","scale":{"domain":[-0.04,1.045],"nice":false,"zero":false},"axis":{"values":[0,0.2,0.4,0.6,0.8,1],"format":".1f","title":"Actual PFS (proportion)"}},"color":{"field":"year","type":"nominal","scale":{"domain":["1-year","3-year","5-year"],"range":["#EE82B4","#4A8CC8","#F4A64C"]},"legend":{"orient":"none","legendX":83,"legendY":84,"title":null,"symbolType":"stroke","symbolSize":30,"symbolStrokeWidth":1,"labelFontSize":3.6,"rowPadding":0,"labelOffset":2,"padding":0}}}},
{"data":{"name":"cal_d"},"mark":{"type":"rule","strokeWidth":0.7},"encoding":{"x":{"field":"pred","type":"quantitative","scale":{"domain":[-0.045,1.035],"nice":false,"zero":false},"axis":null},"y":{"field":"lo","type":"quantitative","scale":{"domain":[-0.04,1.045],"nice":false,"zero":false},"axis":null},"y2":{"field":"hi"},"color":{"field":"year","type":"nominal","scale":{"domain":["1-year","3-year","5-year"],"range":["#EE82B4","#4A8CC8","#F4A64C"]}}}},
{"data":{"name":"cal_d"},"mark":{"type":"tick","orient":"horizontal","size":2.5,"thickness":0.6},"encoding":{"x":{"field":"pred","type":"quantitative","scale":{"domain":[-0.045,1.035],"nice":false,"zero":false},"axis":null},"y":{"field":"lo","type":"quantitative","scale":{"domain":[-0.04,1.045],"nice":false,"zero":false},"axis":null},"color":{"field":"year","type":"nominal","scale":{"domain":["1-year","3-year","5-year"],"range":["#EE82B4","#4A8CC8","#F4A64C"]}}}},
{"data":{"name":"cal_d"},"mark":{"type":"tick","orient":"horizontal","size":2.5,"thickness":0.6},"encoding":{"x":{"field":"pred","type":"quantitative","scale":{"domain":[-0.045,1.035],"nice":false,"zero":false},"axis":null},"y":{"field":"hi","type":"quantitative","scale":{"domain":[-0.04,1.045],"nice":false,"zero":false},"axis":null},"color":{"field":"year","type":"nominal","scale":{"domain":["1-year","3-year","5-year"],"range":["#EE82B4","#4A8CC8","#F4A64C"]}}}},
{"data":{"name":"cal_d"},"mark":{"type":"point","shape":"square","filled":true,"size":5,"opacity":1},"encoding":{"x":{"field":"pred","type":"quantitative","scale":{"domain":[-0.045,1.035],"nice":false,"zero":false},"axis":null},"y":{"field":"obs","type":"quantitative","scale":{"domain":[-0.04,1.045],"nice":false,"zero":false},"axis":null},"color":{"field":"year","type":"nominal","scale":{"domain":["1-year","3-year","5-year"],"range":["#EE82B4","#4A8CC8","#F4A64C"]}}}}
]
},
{
"width":167,"height":107,"view":{"stroke":"#444","strokeWidth":1.2},
"title":{"text":"External validation cohort","fontSize":9.5,"anchor":"middle","baseline":"alphabetic","offset":-9,"dy":8},
"resolve":{"axis":{"x":"independent"}},
"layer":[
{"data":{"values":[]},"mark":"rule","encoding":{"x":{"field":"t","type":"quantitative","scale":{"domain":[6.84,54.9],"nice":false,"zero":false},"axis":{"orient":"top","title":"e","labels":false,"ticks":false,"domain":false,"titleFontSize":12,"titleAngle":0,"titleAlign":"left","titleBaseline":"alphabetic","titleX":-16,"titleY":-4}}}},
{"data":{"name":"auc_e"},"mark":{"type":"line","strokeWidth":1.1},"encoding":{"x":{"field":"t","type":"quantitative","scale":{"domain":[6.84,54.9],"nice":false,"zero":false},"axis":{"values":[10,20,30,40,50],"title":"Time（month）","titleFontSize":7}},"y":{"field":"auc","type":"quantitative","scale":{"domain":[0.428,1.022],"nice":false,"zero":false},"axis":{"values":[0.5,0.6,0.7,0.8,0.9,1.0],"format":".1f","title":"Area under ROC","titleFontSize":7}},"color":{"field":"model","type":"nominal","scale":{"domain":["Combined model","PET-based model","Clinical model","NCCN-IPI"],"range":["#EE82B4","#F4A64C","#3DAA6A","#3388C4"]},"legend":{"orient":"none","legendX":9,"legendY":5,"title":null,"symbolType":"stroke","symbolSize":30,"symbolStrokeWidth":1,"labelFontSize":3.6,"rowPadding":0,"labelOffset":2,"padding":0}}}}
]
},
{"width":4,"height":9,"data":{"values":[]},"mark":"point"},
{
"width":121,"height":107,"view":{"stroke":"#444","strokeWidth":1.2},
"title":{"text":"External validation cohort","fontSize":9.5,"anchor":"middle","baseline":"alphabetic","offset":-9,"dy":8},
"resolve":{"axis":{"x":"independent"}},
"layer":[
{"data":{"values":[{"a":-0.04,"b":1.04}]},"mark":{"type":"rule","strokeDash":[2,1.5],"color":"#777","strokeWidth":0.6},"encoding":{"x":{"field":"a","type":"quantitative","scale":{"domain":[-0.045,1.035],"nice":false,"zero":false},"axis":{"orient":"top","title":"i","labels":false,"ticks":false,"domain":false,"titleFontSize":12,"titleAngle":0,"titleAlign":"left","titleBaseline":"alphabetic","titleX":-24,"titleY":-6}},"x2":{"field":"b"},"y":{"field":"a","type":"quantitative","scale":{"domain":[-0.04,1.045],"nice":false,"zero":false},"axis":null},"y2":{"field":"b"}}},
{"data":{"name":"cal_i"},"mark":{"type":"line","strokeWidth":0.9},"encoding":{"x":{"field":"pred","type":"quantitative","scale":{"domain":[-0.045,1.035],"nice":false,"zero":false},"axis":{"values":[0,0.2,0.4,0.6,0.8,1],"format":".1f","title":"Predicted Survival Probability"}},"y":{"field":"obs","type":"quantitative","scale":{"domain":[-0.04,1.045],"nice":false,"zero":false},"axis":{"values":[0,0.2,0.4,0.6,0.8,1],"format":".1f","title":"Actual OS (proportion)"}},"color":{"field":"year","type":"nominal","scale":{"domain":["1-year","3-year","5-year"],"range":["#EE82B4","#4A8CC8","#F4A64C"]},"legend":{"orient":"none","legendX":85,"legendY":84,"title":null,"symbolType":"stroke","symbolSize":30,"symbolStrokeWidth":1,"labelFontSize":3.6,"rowPadding":0,"labelOffset":2,"padding":0}}}},
{"data":{"name":"cal_i"},"mark":{"type":"rule","strokeWidth":0.7},"encoding":{"x":{"field":"pred","type":"quantitative","scale":{"domain":[-0.045,1.035],"nice":false,"zero":false},"axis":null},"y":{"field":"lo","type":"quantitative","scale":{"domain":[-0.04,1.045],"nice":false,"zero":false},"axis":null},"y2":{"field":"hi"},"color":{"field":"year","type":"nominal","scale":{"domain":["1-year","3-year","5-year"],"range":["#EE82B4","#4A8CC8","#F4A64C"]}}}},
{"data":{"name":"cal_i"},"mark":{"type":"tick","orient":"horizontal","size":2.5,"thickness":0.6},"encoding":{"x":{"field":"pred","type":"quantitative","scale":{"domain":[-0.045,1.035],"nice":false,"zero":false},"axis":null},"y":{"field":"lo","type":"quantitative","scale":{"domain":[-0.04,1.045],"nice":false,"zero":false},"axis":null},"color":{"field":"year","type":"nominal","scale":{"domain":["1-year","3-year","5-year"],"range":["#EE82B4","#4A8CC8","#F4A64C"]}}}},
{"data":{"name":"cal_i"},"mark":{"type":"tick","orient":"horizontal","size":2.5,"thickness":0.6},"encoding":{"x":{"field":"pred","type":"quantitative","scale":{"domain":[-0.045,1.035],"nice":false,"zero":false},"axis":null},"y":{"field":"hi","type":"quantitative","scale":{"domain":[-0.04,1.045],"nice":false,"zero":false},"axis":null},"color":{"field":"year","type":"nominal","scale":{"domain":["1-year","3-year","5-year"],"range":["#EE82B4","#4A8CC8","#F4A64C"]}}}},
{"data":{"name":"cal_i"},"mark":{"type":"point","shape":"square","filled":true,"size":5,"opacity":1},"encoding":{"x":{"field":"pred","type":"quantitative","scale":{"domain":[-0.045,1.035],"nice":false,"zero":false},"axis":null},"y":{"field":"obs","type":"quantitative","scale":{"domain":[-0.04,1.045],"nice":false,"zero":false},"axis":null},"color":{"field":"year","type":"nominal","scale":{"domain":["1-year","3-year","5-year"],"range":["#EE82B4","#4A8CC8","#F4A64C"]}}}}
]
},
{
"width":165,"height":107,"view":{"stroke":"#444","strokeWidth":1.2},
"title":{"text":"External validation cohort","fontSize":9.5,"anchor":"middle","baseline":"alphabetic","offset":-9,"dy":8,"dx":8},
"resolve":{"axis":{"x":"independent"}},
"layer":[
{"data":{"values":[]},"mark":"rule","encoding":{"x":{"field":"t","type":"quantitative","scale":{"domain":[9.6,56.9],"nice":false,"zero":false},"axis":{"orient":"top","title":"j","labels":false,"ticks":false,"domain":false,"titleFontSize":12,"titleAngle":0,"titleAlign":"left","titleBaseline":"alphabetic","titleX":-15,"titleY":-5}}}},
{"data":{"name":"auc_j"},"mark":{"type":"line","strokeWidth":1.1},"encoding":{"x":{"field":"t","type":"quantitative","scale":{"domain":[9.6,56.9],"nice":false,"zero":false},"axis":{"values":[20,30,40,50],"title":"Time（month）","titleFontSize":7}},"y":{"field":"auc","type":"quantitative","scale":{"domain":[0.428,1.022],"nice":false,"zero":false},"axis":{"values":[0.5,0.6,0.7,0.8,0.9,1.0],"format":".1f","title":"Area under ROC","titleFontSize":7}},"color":{"field":"model","type":"nominal","scale":{"domain":["Combined model","PET-based model","Clinical model","NCCN-IPI"],"range":["#EE82B4","#F4A64C","#3DAA6A","#3388C4"]},"legend":{"orient":"none","legendX":10,"legendY":5,"title":null,"symbolType":"stroke","symbolSize":30,"symbolStrokeWidth":1,"labelFontSize":3.6,"rowPadding":0,"labelOffset":2,"padding":0}}}}
]
}
],
"config":{
"font":"Liberation Serif",
"view":{"stroke":null},
"axis":{"labelFont":"Liberation Serif","labelFontWeight":"bold","labelFontSize":5.5,"labelColor":"#333","titleFont":"Liberation Serif","titleFontWeight":"bold","titleFontSize":6.5,"titleColor":"#222","domain":false,"grid":false,"tickSize":1.5,"tickWidth":0.6,"tickColor":"#444","labelPadding":0.5,"titlePadding":1.5},
"legend":{"labelFont":"Liberation Serif","labelFontWeight":"bold","labelColor":"#333"},
"title":{"font":"Liberation Serif","fontWeight":"bold","color":"#222"},
"text":{"font":"Liberation Serif"}
}
}
